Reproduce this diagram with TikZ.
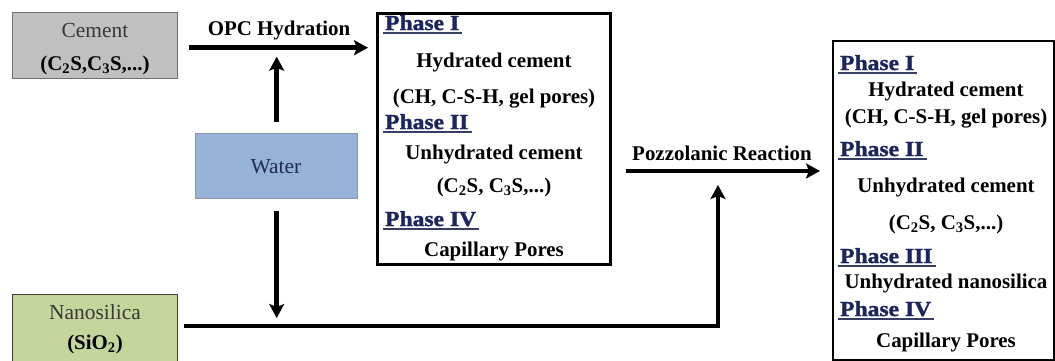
\documentclass[tikz,border=0pt]{standalone}
\usepackage{fontspec}
\setmainfont{Liberation Serif}
\newfontfamily\phasefont{Liberation Serif}[BoldFeatures={FakeBold=1.5,FakeStretch=1.1}]
\usetikzlibrary{arrows.meta}

\definecolor{cementfill}{RGB}{192,192,192}
\definecolor{cementedge}{RGB}{110,110,110}
\definecolor{waterfill}{RGB}{150,179,215}
\definecolor{wateredge}{RGB}{140,150,168}
\definecolor{nanofill}{RGB}{196,214,156}
\definecolor{nanoedge}{RGB}{60,62,50}
\definecolor{phasenavy}{RGB}{28,38,92}
\definecolor{uline}{RGB}{55,62,100}
\definecolor{softtext}{RGB}{55,55,55}
\definecolor{watertext}{RGB}{30,45,80}

\tikzset{
  srcbox/.style={draw, line width=1.4bp, inner sep=0pt, anchor=north west},
  phasebox/.style={draw=black, line width=2.6bp, inner sep=0pt, anchor=north west},
  txt/.style={inner sep=0pt, text height=14bp, text depth=0pt,
              font=\fontsize{21}{25}\selectfont\bfseries},
  softtxt/.style={inner sep=0pt, text height=14bp, text depth=0pt,
              font=\fontsize{21.5}{25}\selectfont},
  phaselbl/.style={inner sep=0pt, text height=14bp, text depth=0pt, anchor=west,
              text=phasenavy, font=\fontsize{21.5}{25}\selectfont\phasefont\bfseries},
  underln/.style={draw=uline, line width=1.5bp},
  flow/.style={line width=4.6bp, -{Stealth[length=14bp,width=15bp,inset=3bp]}},
  feed/.style={line width=4.6bp}
}

\newcommand{\phaselabel}[3]{%
  \node[phaselbl] (#1) at (#2) {#3};
  \draw[underln] ([xshift=-2bp,yshift=-3bp]#1.south west) -- ([xshift=3bp,yshift=-3bp]#1.south east);
}

\begin{document}
\begin{tikzpicture}[x=1bp, y=-1bp]
\useasboundingbox[fill=white] (0,0) rectangle (1055,360);

% source boxes
\node[srcbox, draw=cementedge, fill=cementfill, minimum width=165bp, minimum height=66bp] (cement) at (12,12) {};
\node[softtxt, text=softtext] (cementname) at (95,30) {Cement};
\node[txt] (cementformula) at (95,63) {(C\textsubscript{2}S,C\textsubscript{3}S,...)};

\node[srcbox, draw=wateredge, fill=waterfill, minimum width=162bp, minimum height=65bp] (water) at (195,133) {};
\node[softtxt, text=watertext] (watername) at (276,166) {Water};

\node[srcbox, draw=nanoedge, fill=nanofill, minimum width=165bp, minimum height=76bp] (nano) at (12,294) {};
\node[softtxt, text=softtext] (nanoname) at (95,312) {Nanosilica};
\node[txt] (nanoformula) at (95,342) {(SiO\textsubscript{2})};

% hydrated paste
\node[phasebox, minimum width=233bp, minimum height=251bp] (paste) at (376,12) {};
\phaselabel{pI}{385,23}{Phase I}
\node[txt] (pIa) at (494,60) {Hydrated cement};
\node[txt] (pIb) at (494,96) {(CH, C-S-H, gel pores)};
\phaselabel{pII}{385,122}{Phase II}
\node[txt] (pIIa) at (494,152) {Unhydrated cement};
\node[txt] (pIIb) at (494,185) {(C\textsubscript{2}S, C\textsubscript{3}S,...)};
\phaselabel{pIV}{385,219}{Phase IV}
\node[txt] (pIVa) at (494,249) {Capillary Pores};

% paste after the pozzolanic reaction
\node[phasebox, line width=2.2bp, minimum width=221bp, minimum height=319bp] (final) at (832,40) {};
\phaselabel{qI}{840,63}{Phase I}
\node[txt] (qIa) at (946,89) {Hydrated cement};
\node[txt] (qIb) at (946,116) {(CH, C-S-H, gel pores)};
\phaselabel{qII}{840,149}{Phase II}
\node[txt] (qIIa) at (946,185) {Unhydrated cement};
\node[txt] (qIIb) at (946,222) {(C\textsubscript{2}S, C\textsubscript{3}S,...)};
\phaselabel{qIII}{840,256}{Phase III}
\node[txt] (qIIIa) at (946,281) {Unhydrated nanosilica};
\phaselabel{qIV}{840,309}{Phase IV}
\node[txt] (qIVa) at (946,340) {Capillary Pores};

% process labels
\node[txt] (opc) at (279,28) {OPC Hydration};
\node[txt] (pozz) at (722,153) {Pozzolanic Reaction};

% helper points for the routed connectors
\coordinate (pzrow) at (0,171);
\coordinate (bend) at (718,326);

% connectors
\draw[flow, shorten <=11bp, shorten >=8bp]
  ([yshift=-2bp]cement.east) -- ([yshift=-2bp]cement.east -| paste.west);
\draw[flow, shorten <=11bp, shorten >=9bp]
  (water.north) -- ([yshift=-2bp]water.north |- cement.east);
\draw[flow, shorten <=12bp, shorten >=8bp]
  (water.south) -- (water.south |- bend);
\draw[flow, shorten <=14bp, shorten >=12bp]
  (paste.east |- pzrow) -- (final.west |- pzrow);
\draw[feed, shorten <=6bp]
  (nano.east |- bend) -- (bend);
\draw[flow, line cap=rect, shorten >=14bp]
  (bend) -- (bend |- pzrow);
\end{tikzpicture}
\end{document}
